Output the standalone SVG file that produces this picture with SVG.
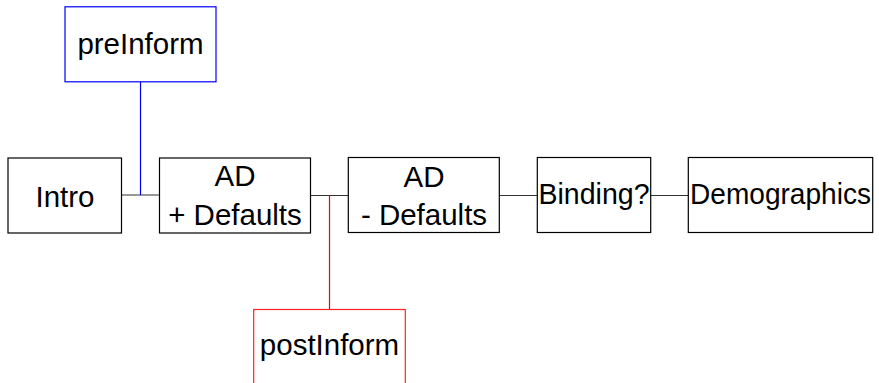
<svg xmlns="http://www.w3.org/2000/svg" width="879" height="383" viewBox="0 0 879 383">
<style>
.box{fill:#fff;stroke:#000;stroke-width:1.2}
.blue{stroke:#00f}
.red{stroke:#f22}
text{font-family:"Liberation Sans",Arial,sans-serif;font-size:29.5px;fill:#000;text-anchor:middle}
.conn{stroke:#333;stroke-width:1.2;fill:none}
</style>
<rect width="879" height="383" fill="#fff"/>
<g id="connectors">
<line class="conn" x1="121.5" y1="195" x2="159.5" y2="195"/>
<line class="conn" x1="310.5" y1="195.5" x2="348.3" y2="195.5"/>
<line class="conn" x1="499.3" y1="195.5" x2="537.3" y2="195.5"/>
<line class="conn" x1="650.7" y1="195.5" x2="688.3" y2="195.5"/>
<line class="conn" x1="140.5" y1="82" x2="140.5" y2="195" style="stroke:#00f"/>
<line class="conn" x1="329.5" y1="195.5" x2="329.5" y2="309.5" style="stroke:#e00"/>
</g>
<g id="preInform">
<rect class="box blue" x="65" y="6.8" width="151" height="75"/>
<text x="140.5" y="53.5">preInform</text>
</g>
<g id="intro">
<rect class="box" x="8" y="158" width="113.5" height="75"/>
<text x="65" y="207">Intro</text>
</g>
<g id="adPlus">
<rect class="box" x="159.5" y="158" width="151" height="75"/>
<text x="235" y="185.5">AD</text>
<text x="235" y="224.5">+ Defaults</text>
</g>
<g id="adMinus">
<rect class="box" x="348.3" y="157.5" width="151" height="75"/>
<text x="424" y="186.5">AD</text>
<text x="424" y="225">- Defaults</text>
</g>
<g id="binding">
<rect class="box" x="537.3" y="157.5" width="113.4" height="75"/>
<text x="594" y="203.5" textLength="111" lengthAdjust="spacingAndGlyphs">Binding?</text>
</g>
<g id="demographics">
<rect class="box" x="688.3" y="157.5" width="184.4" height="75"/>
<text x="780.5" y="203.5" textLength="181" lengthAdjust="spacingAndGlyphs">Demographics</text>
</g>
<g id="postInform">
<rect class="box red" x="253.7" y="309.5" width="151.6" height="80"/>
<text x="329.5" y="355">postInform</text>
</g>
</svg>
